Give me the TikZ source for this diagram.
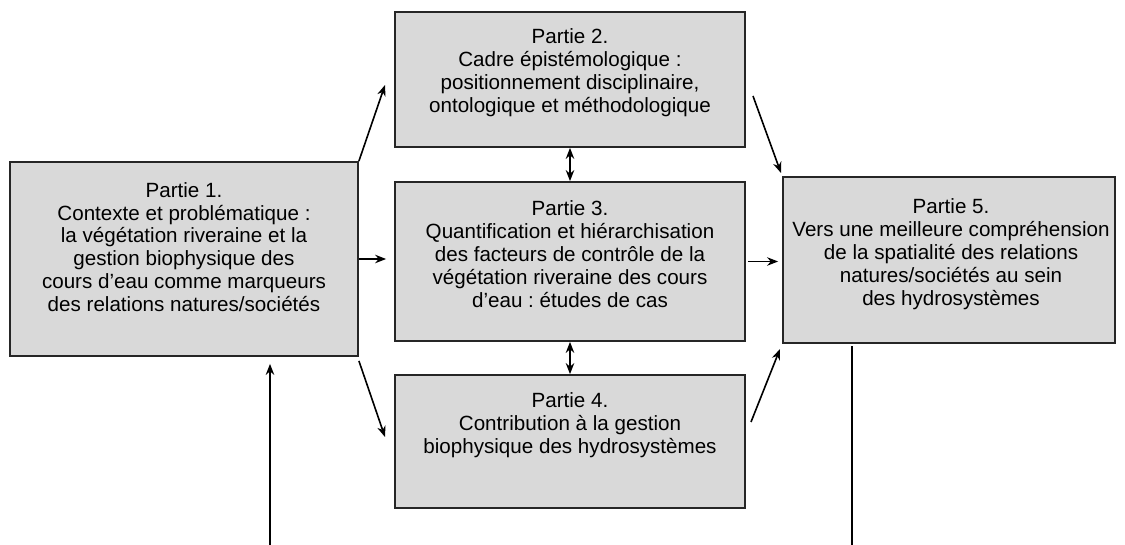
\documentclass[tikz,border=0pt]{standalone}
\usepackage{fontspec}
\setmainfont{Liberation Sans}
\usetikzlibrary{arrows.meta}
\frenchspacing
\begin{document}
\begin{tikzpicture}[x=1pt,y=-1pt,
  box/.style={draw=black!85,line width=1.8pt,fill=black!15,inner sep=0pt},
  txt/.style={align=center,font=\fontsize{20.6}{22.9}\selectfont,inner sep=0pt},
  arr/.style={-{Stealth[length=11pt,width=8.5pt]},line width=1.6pt},
  darr/.style={{Stealth[length=11pt,width=8.5pt]}-{Stealth[length=11pt,width=8.5pt]},line width=1.6pt}]
\useasboundingbox (0,0) rectangle (1125,545);
\node[box,minimum width=348pt,minimum height=194pt] (b1) at (184,259) {};
\node[box,minimum width=350pt,minimum height=135pt] (b2) at (570,79.5) {};
\node[box,minimum width=350pt,minimum height=159pt] (b3) at (570,261.5) {};
\node[box,minimum width=350pt,minimum height=133pt] (b4) at (570,441.5) {};
\node[box,minimum width=332pt,minimum height=166pt] (b5) at (949,260) {};
\node[txt] (t1) at (184,247) {Partie 1.\\Contexte et problématique :\\la végétation riveraine et la\\gestion biophysique des\\cours d’eau comme marqueurs\\des relations natures/sociétés};
\node[txt] (t2) at (570,73) {Partie 2.\\Cadre épistémologique :\\positionnement disciplinaire,\\ontologique et méthodologique};
\node[txt] (t3) at (570,254) {Partie 3.\\Quantification et hiérarchisation\\des facteurs de contrôle de la\\végétation riveraine des cours\\d’eau : études de cas};
\node[txt] (t4) at (570,425) {Partie 4.\\Contribution à la gestion\\biophysique des hydrosystèmes};
\node[txt] (t5) at (951,254) {Partie 5.\\Vers une meilleure compréhension\\de la spatialité des relations\\natures/sociétés au sein\\des hydrosystèmes};
\coordinate (e12) at (385,85);
\coordinate (s25) at (753,96);
\coordinate (e25) at (781,173);
\coordinate (e14) at (385,437);
\coordinate (s45) at (751,422);
\coordinate (e45) at (780,349);
\coordinate (bl) at (270,545);
\coordinate (br) at (852,545);
\draw[arr] (b1.north east) -- (e12);
\draw[arr] (s25) -- (e25);
\draw[arr] ([yshift=-4pt]b1.south east) -- (e14);
\draw[arr] (s45) -- (e45);
\draw[arr,shorten >=8pt] (b1.east) -- (b1.east -| b3.west);
\draw[arr,shorten <=2pt,shorten >=4pt] (b3.east) -- (b3.east -| b5.west);
\draw[darr] (b2.south) -- (b3.north);
\draw[darr] (b3.south) -- (b4.north);
\draw[arr,shorten >=7pt] (bl) -- (bl |- b1.south);
\draw[line width=1.6pt,shorten >=2pt] (br) -- (br |- b5.south);
\end{tikzpicture}
\end{document}
